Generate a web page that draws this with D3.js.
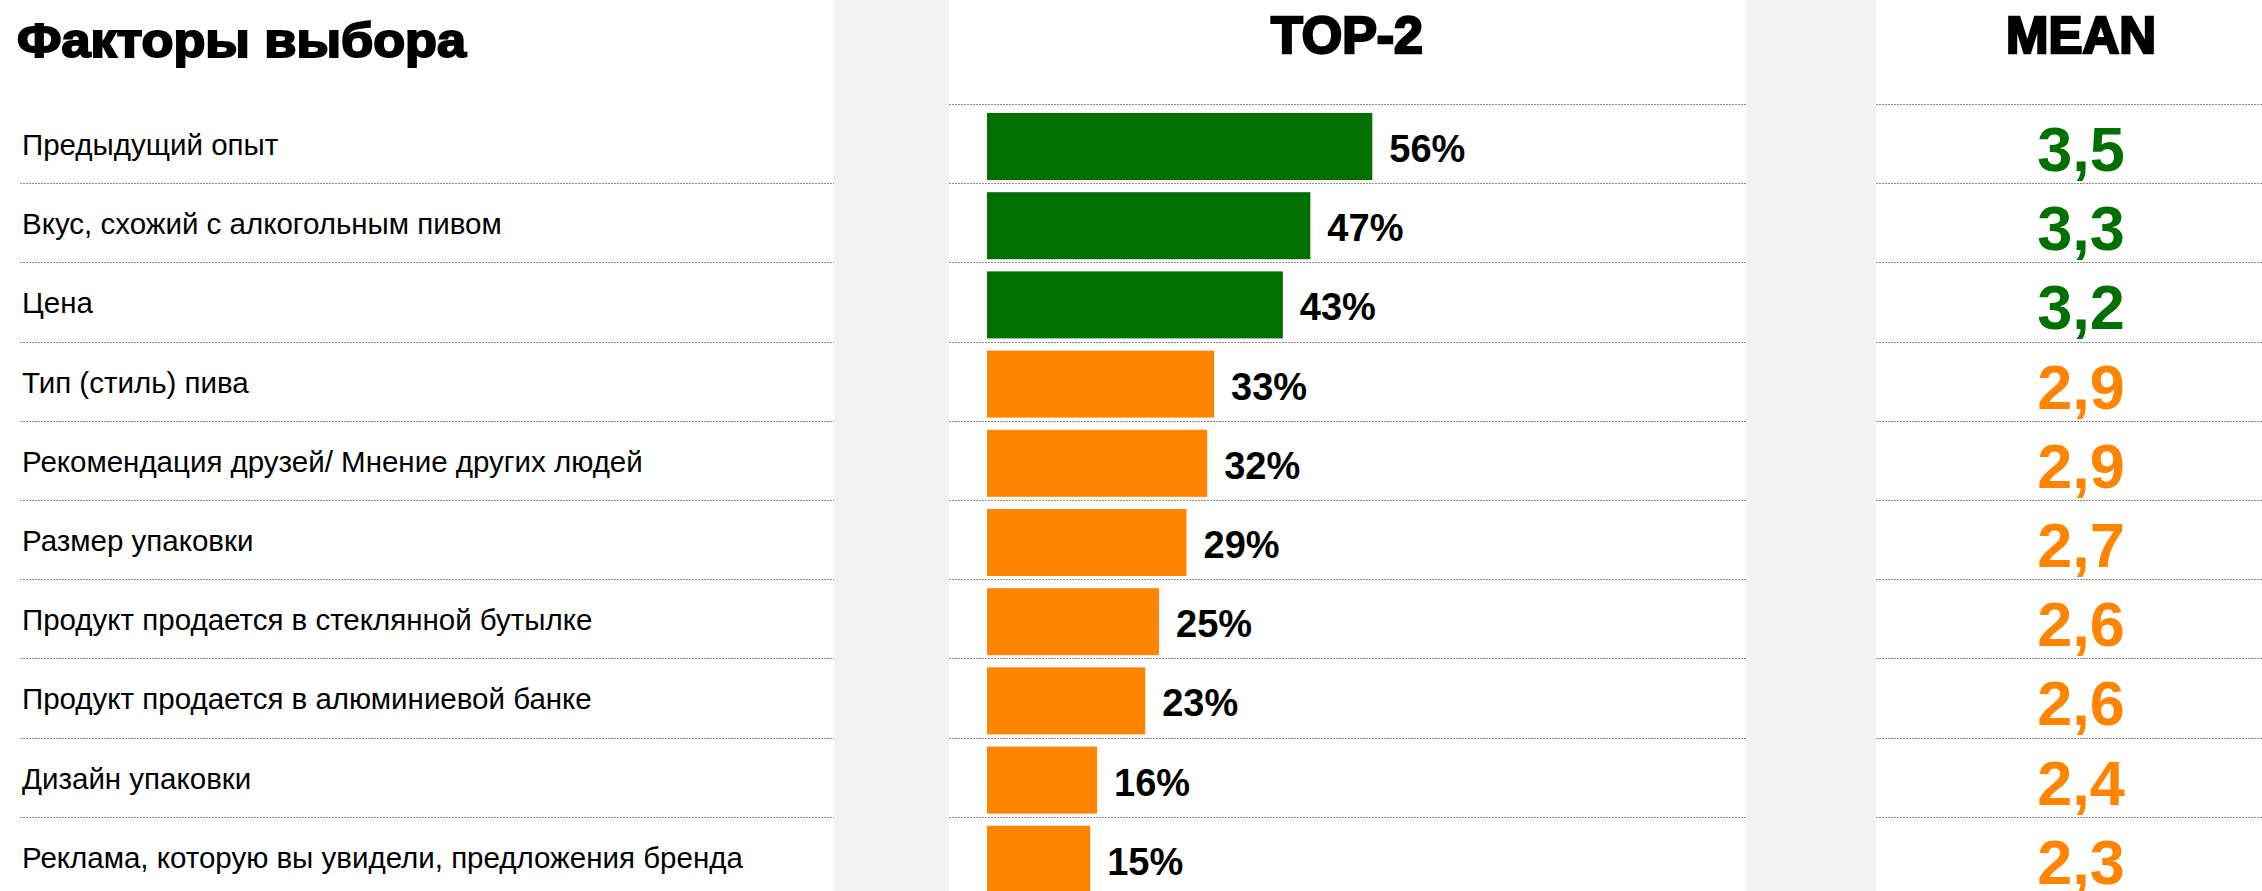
<!DOCTYPE html>
<html>
<head>
<meta charset="utf-8">
<script src="https://cdnjs.cloudflare.com/ajax/libs/d3/7.8.5/d3.min.js"></script>
<style>
    body { margin: 0; background: #fff; }
    text { font-family: "Liberation Sans", Arial, sans-serif; }
</style>
</head>
<body>
<div id="chart-area"></div>
<script>

var factors = [
    "Предыдущий опыт",
    "Вкус, схожий с алкогольным пивом",
    "Цена",
    "Тип (стиль) пива",
    "Рекомендация друзей/ Мнение других людей",
    "Размер упаковки",
    "Продукт продается в стеклянной бутылке",
    "Продукт продается в алюминиевой банке",
    "Дизайн упаковки",
    "Реклама, которую вы увидели, предложения бренда"
]
var top2 = [56, 47, 43, 33, 32, 29, 25, 23, 16, 15]
var means = [3.5, 3.3, 3.2, 2.9, 2.9, 2.7, 2.6, 2.6, 2.4, 2.3]

var width = 2262,
    height = 891

var green = "#017001",
    orange = "#ff8400",
    grey = "#f2f2f2"

var svg = d3.select("#chart-area").append("svg")
    .attr("width", width)
    .attr("height", height)

// grey spacer columns
svg.append("rect").attr("x", 834).attr("y", 0).attr("width", 115).attr("height", height).attr("fill", grey)
svg.append("rect").attr("x", 1746).attr("y", 0).attr("width", 130).attr("height", height).attr("fill", grey)

var y = d3.scaleBand()
    .domain(factors)
    .range([104, 104 + 79.2 * factors.length])
    .padding(0)

var x = d3.scaleLinear()
    .domain([0, 100])
    .range([987, 987 + 688])

var rowColor = function(i) { return means[i] >= 3 ? green : orange }

// dotted separators
var sepY = [y.range()[0]].concat(factors.slice(1).map(function(d) { return y(d) }))
var segments = [[20, 834], [949, 1746], [1876, width]]

sepY.forEach(function(yy, k) {
    segments.forEach(function(s, j) {
        if (k == 0 && j == 0) return
        svg.append("line")
            .attr("x1", s[0]).attr("x2", s[1])
            .attr("y1", Math.round(yy) + 0.5).attr("y2", Math.round(yy) + 0.5)
            .attr("stroke", "#8c8c8c")
            .attr("stroke-width", 1)
            .attr("stroke-dasharray", "2,1")
    })
})

// headers
svg.append("text")
    .attr("x", 17).attr("y", 57)
    .attr("font-size", 48).attr("font-weight", "bold")
    .attr("stroke", "#000").attr("stroke-width", 2)
    .attr("textLength", 449).attr("lengthAdjust", "spacingAndGlyphs")
    .text("Факторы выбора")

svg.append("text")
    .attr("x", 1347).attr("y", 53)
    .attr("text-anchor", "middle")
    .attr("font-size", 51).attr("font-weight", "bold")
    .attr("stroke", "#000").attr("stroke-width", 2.5)
    .attr("textLength", 152).attr("lengthAdjust", "spacingAndGlyphs")
    .text("TOP-2")

svg.append("text")
    .attr("x", 2081).attr("y", 53)
    .attr("text-anchor", "middle")
    .attr("font-size", 51).attr("font-weight", "bold")
    .attr("stroke", "#000").attr("stroke-width", 2.5)
    .attr("textLength", 150).attr("lengthAdjust", "spacingAndGlyphs")
    .text("MEAN")

var rows = svg.append("g")
    .selectAll("g")
    .data(factors)
    .enter().append("g")

rows.append("text")
    .attr("x", 22)
    .attr("y", function(d) { return y(d) + 51 })
    .attr("font-size", 29.5)
    .attr("fill", "#000")
    .text(function(d) { return d })

rows.append("rect")
    .attr("x", x(0))
    .attr("y", function(d) { return y(d) + 9 })
    .attr("width", function(d, i) { return x(top2[i]) - x(0) })
    .attr("height", 67)
    .attr("fill", function(d, i) { return rowColor(i) })

rows.append("text")
    .attr("x", function(d, i) { return x(top2[i]) + 17 })
    .attr("y", function(d) { return y(d) + 58 })
    .attr("font-size", 38)
    .attr("font-weight", "bold")
    .attr("fill", "#000")
    .text(function(d, i) { return top2[i] + "%" })

rows.append("text")
    .attr("x", 2081)
    .attr("y", function(d) { return y(d) + 67 })
    .attr("text-anchor", "middle")
    .attr("font-size", 63)
    .attr("font-weight", "bold")
    .attr("fill", function(d, i) { return rowColor(i) })
    .text(function(d, i) { return d3.format(".1f")(means[i]).replace(".", ",") })

</script>
</body>
</html>
